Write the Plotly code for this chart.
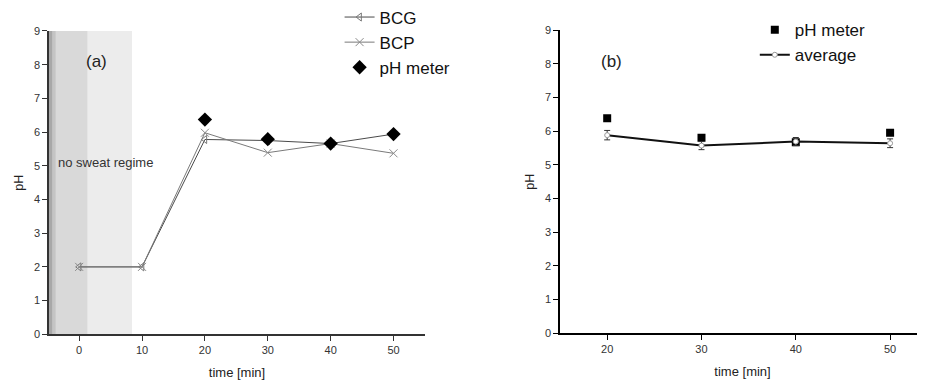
import plotly.graph_objects as go

# ---- data ----
time_a = [0, 10, 20, 30, 40, 50]
bcg = [2.0, 2.0, 5.78, 5.75, 5.66, 5.94]
bcp = [2.0, 2.0, 5.98, 5.39, 5.66, 5.37]
time_ph_a = [20, 30, 40, 50]
ph_meter_a = [6.37, 5.79, 5.66, 5.94]

time_b = [20, 30, 40, 50]
ph_meter_b = [6.38, 5.80, 5.67, 5.95]
average_b = [5.88, 5.57, 5.69, 5.64]
average_err = [0.14, 0.12, 0.12, 0.13]

x_ticks_a = [0, 10, 20, 30, 40, 50]
x_ticks_b = [20, 30, 40, 50]
y_ticks = [0, 1, 2, 3, 4, 5, 6, 7, 8, 9]

FONT = "Liberation Sans, Arial, sans-serif"

fig = go.Figure()

# panel (a)
fig.add_trace(go.Scatter(x=time_a, y=bcg, name="BCG", mode="lines+markers",
                         line=dict(color="#4a4a4a", width=1),
                         marker=dict(symbol="triangle-left-open", size=7, color="#777777",
                                     line=dict(width=1)),
                         xaxis="x", yaxis="y", legend="legend"))
fig.add_trace(go.Scatter(x=time_a, y=bcp, name="BCP", mode="lines+markers",
                         line=dict(color="#7a7a7a", width=1),
                         marker=dict(symbol="x-thin-open", size=8, color="#8a8a8a",
                                     line=dict(width=1, color="#8a8a8a")),
                         xaxis="x", yaxis="y", legend="legend"))
fig.add_trace(go.Scatter(x=time_ph_a, y=ph_meter_a, name="pH meter", mode="markers",
                         marker=dict(symbol="diamond", size=11, color="black"),
                         xaxis="x", yaxis="y", legend="legend"))

# panel (b)
fig.add_trace(go.Scatter(x=time_b, y=ph_meter_b, name="pH meter", mode="markers",
                         marker=dict(symbol="square", size=8, color="black"),
                         xaxis="x2", yaxis="y2", legend="legend2"))
fig.add_trace(go.Scatter(x=time_b, y=average_b, name="average", mode="lines+markers",
                         line=dict(color="#111111", width=2),
                         marker=dict(symbol="circle", size=5, color="white",
                                     line=dict(width=1, color="#999999")),
                         error_y=dict(type="data", array=average_err, color="#333333",
                                      thickness=1, width=3),
                         xaxis="x2", yaxis="y2", legend="legend2"))

axis_common = dict(showgrid=False, zeroline=False, showline=True, ticks="outside",
                   ticklen=5, tickwidth=1, automargin=False,
                   tickfont=dict(family=FONT, size=11, color="#333333"))

fig.update_layout(
    width=917, height=375,
    margin=dict(l=0, r=0, t=0, b=0, autoexpand=False),
    paper_bgcolor="white", plot_bgcolor="rgba(0,0,0,0)",
    font=dict(family=FONT, color="#222222"),
    xaxis=dict(axis_common, domain=[0.0447, 0.4547], range=[-4.8, 55], tickvals=x_ticks_a,
               linecolor="#333333", linewidth=1.5, tickcolor="#333333", anchor="y",
               title=dict(text="time [min]", font=dict(size=13, family=FONT), standoff=13)),
    yaxis=dict(axis_common, domain=[0.1299, 0.9387], range=[0, 9], tickvals=y_ticks,
               linecolor="#333333", linewidth=1.5, tickcolor="#333333", anchor="x",
               title=dict(text="pH", font=dict(size=12.5, family=FONT), standoff=8)),
    xaxis2=dict(axis_common, domain=[0.602, 1.0], range=[15, 53.7], tickvals=x_ticks_b,
                linecolor="black", linewidth=1.5, tickcolor="black", anchor="y2",
                title=dict(text="time [min]", font=dict(size=13, family=FONT), standoff=13)),
    yaxis2=dict(axis_common, domain=[0.1325, 0.9413], range=[0, 9], tickvals=y_ticks,
                linecolor="black", linewidth=1.5, tickcolor="black", anchor="x2",
                title=dict(text="pH", font=dict(size=12.5, family=FONT), standoff=8)),
    legend=dict(x=0.3616, y=1.0227, xanchor="left", yanchor="top",
                font=dict(size=17, family=FONT, color="#111111"),
                bgcolor="rgba(0,0,0,0)", tracegroupgap=0, itemwidth=30),
    legend2=dict(x=0.8144, y=0.989, xanchor="left", yanchor="top",
                 font=dict(size=17, family=FONT, color="#111111"),
                 bgcolor="rgba(0,0,0,0)", tracegroupgap=0, itemwidth=30),
    showlegend=True,
)

# shaded "no sweat regime" band
band_layers = [(-4.8, 8.4, "#ececec"), (-4.8, 1.3, "#d9d9d9"),
               (-4.8, -3.75, "#c4c4c4"), (-4.8, -4.3, "#a8a8a8")]
for x0, x1, col in band_layers:
    fig.add_shape(type="rect", xref="x", yref="y", x0=x0, x1=x1, y0=0, y1=9,
                  fillcolor=col, line=dict(width=0), layer="below")

fig.add_annotation(x=2.7, y=8.08, xref="x", yref="y", text="(a)", showarrow=False,
                   xanchor="center", font=dict(size=17, family=FONT, color="#222222"))
fig.add_annotation(x=-3.7, y=5.11, xref="x", yref="y", text="no sweat regime", showarrow=False,
                   xanchor="left", font=dict(size=13, family=FONT, color="#333333"))
fig.add_annotation(x=20.5, y=8.08, xref="x2", yref="y2", text="(b)", showarrow=False,
                   xanchor="center", font=dict(size=17, family=FONT, color="#222222"))

fig.write_html("out.html")
